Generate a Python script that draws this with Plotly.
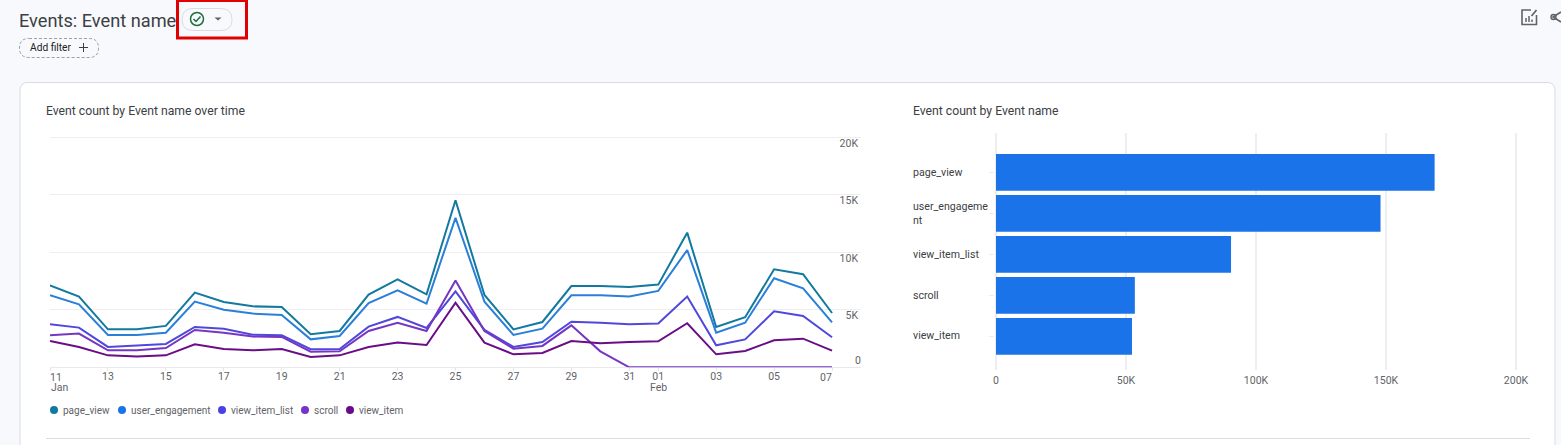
import pandas as pd
import plotly.graph_objects as go

W, H = 1561, 445

# Daily event counts, 11 Jan to 7 Feb
dates = pd.date_range("2024-01-11", "2024-02-07", freq="D")
page_view = [7130, 6150, 3300, 3300, 3600, 6500, 5680, 5300, 5250, 2870, 3160, 6320, 7650, 6350,
             14520, 6290, 3300, 3940, 7070, 7070, 6990, 7190, 11710, 3500, 4350, 8520, 8090, 4720]
user_engagement = [6260, 5480, 2810, 2810, 3010, 5710, 5010, 4670, 4550, 2430, 2720, 5590, 6700, 5540,
                   12990, 5710, 2810, 3360, 6260, 6260, 6150, 6640, 10200, 3010, 3880, 7740, 6870, 3910]
view_item_list = [3740, 3450, 1770, 1910, 2030, 3510, 3360, 2840, 2780, 1570, 1590, 3540, 4380, 3420,
                  6610, 3250, 1770, 2200, 3970, 3880, 3740, 3800, 6150, 1910, 2430, 4870, 4460, 2610]
scroll = [2780, 2930, 1480, 1480, 1680, 3250, 3010, 2670, 2640, 1360, 1390, 3160, 3860, 3160,
          7540, 3160, 1620, 1860, 3650, 1390, 0, 0, 0, 0, 0, 0, 0, 0]
view_item = [2290, 1770, 1040, 930, 1040, 2000, 1590, 1480, 1590, 900, 1040, 1770, 2150, 1940,
             5620, 2150, 1130, 1250, 2290, 2090, 2200, 2260, 3830, 1130, 1420, 2350, 2490, 1450]

series_names = ["page_view", "user_engagement", "view_item_list", "scroll", "view_item"]
series_values = [page_view, user_engagement, view_item_list, scroll, view_item]
series_colors = ["#12799f", "#2a80d8", "#5048dc", "#7536c4", "#6a0d86"]
legend_colors = ["#12799f", "#1a73e8", "#4a40e8", "#7434c8", "#6a0a8a"]

# Totals per event
bar_names = ["page_view", "user_engagement", "view_item_list", "scroll", "view_item"]
bar_labels = ["page_view", "user_engageme<br>nt", "view_item_list", "scroll", "view_item"]
bar_totals = [168700, 147900, 90400, 53400, 52300]

x_tick_dates = ["2024-01-13", "2024-01-15", "2024-01-17", "2024-01-19", "2024-01-21", "2024-01-23",
                "2024-01-25", "2024-01-27", "2024-01-29", "2024-01-31", "2024-02-01", "2024-02-03",
                "2024-02-05", "2024-01-11", "2024-02-07"]
x_tick_text = ["13", "15", "17", "19", "21", "23", "25", "27", "29", "31", "01", "03", "05", "", ""]

FONT = "Roboto, Arial, sans-serif"
GREY = "#5f6368"
DARK = "#3c4043"
GRID = "#eeeef0"


def px(x):
    return x / W


def py(y):
    return 1 - y / H


def rect_path(x0, y0, x1, y1, r):
    """Rounded rectangle as an SVG path in paper coordinates."""
    pts = [
        f"M{px(x0 + r)},{py(y0)}", f"L{px(x1 - r)},{py(y0)}",
        f"Q{px(x1)},{py(y0)} {px(x1)},{py(y0 + r)}", f"L{px(x1)},{py(y1 - r)}",
        f"Q{px(x1)},{py(y1)} {px(x1 - r)},{py(y1)}", f"L{px(x0 + r)},{py(y1)}",
        f"Q{px(x0)},{py(y1)} {px(x0)},{py(y1 - r)}", f"L{px(x0)},{py(y0 + r)}",
        f"Q{px(x0)},{py(y0)} {px(x0 + r)},{py(y0)}", "Z",
    ]
    return " ".join(pts)


def poly(points, close=False):
    body = " ".join(("M" if i == 0 else "L") + f"{px(x)},{py(y)}" for i, (x, y) in enumerate(points))
    return body + (" Z" if close else "")


def paper_shape(**kw):
    return dict(xref="paper", yref="paper", **kw)


def label(text, x, y, size=10.5, color=GREY, anchor="left", **kw):
    return dict(text=text, x=px(x), y=py(y), xref="paper", yref="paper", xanchor=anchor, yanchor="middle",
                showarrow=False, font=dict(family=FONT, size=size, color=color), align="left",
                borderpad=0, borderwidth=0, **kw)


fig = go.Figure()

for name, values, color in zip(series_names, series_values, series_colors):
    fig.add_trace(go.Scatter(x=dates, y=values, name=name, mode="lines", showlegend=False,
                             line=dict(color=color, width=2), xaxis="x", yaxis="y", cliponaxis=False))

fig.add_trace(go.Bar(x=bar_totals, y=bar_names, orientation="h", marker=dict(color="#1a73e8", line_width=0),
                     showlegend=False, xaxis="x2", yaxis="y2"))

shapes = [
    # Report card and the rule beneath its charts
    paper_shape(type="path", path=rect_path(20, 82.5, 1555, 470, 8), fillcolor="#ffffff",
                line=dict(color="#dadce0", width=1), layer="below"),
    paper_shape(type="line", x0=px(46), x1=px(1530), y0=py(438.5), y1=py(438.5),
                line=dict(color="#dadce0", width=1), layer="below"),
    # Status pill with check mark and dropdown arrow
    paper_shape(type="path", path=rect_path(182, 8.5, 232, 30.5, 11), line=dict(color="#dadce0", width=1),
                fillcolor="#f8f9fd"),
    paper_shape(type="circle", x0=px(190.5), x1=px(203.5), y0=py(12.5), y1=py(25.5),
                line=dict(color="#1e6e3c", width=1.5)),
    paper_shape(type="path", path=poly([(193.5, 19), (196, 21.5), (200.5, 16.5)]),
                line=dict(color="#1e6e3c", width=1.5)),
    paper_shape(type="path", path=poly([(214.5, 17.5), (221.5, 17.5), (218, 20.5)], close=True),
                fillcolor=GREY, line_width=0),
    # Highlight box around the pill
    paper_shape(type="rect", x0=px(177.5), x1=px(246.5), y0=py(0.5), y1=py(38),
                line=dict(color="#e00000", width=3)),
    # Add filter chip
    paper_shape(type="path", path=rect_path(19.5, 38.5, 98.5, 57.5, 9.5),
                line=dict(color="#9aa0a6", width=1, dash="3px,2px")),
    paper_shape(type="line", x0=px(79), x1=px(88), y0=py(47.5), y1=py(47.5), line=dict(color=DARK, width=1)),
    paper_shape(type="line", x0=px(83.5), x1=px(83.5), y0=py(43), y1=py(52), line=dict(color=DARK, width=1)),
    # Customise-report icon
    paper_shape(type="path", path=poly([(1531, 10), (1522, 10), (1522, 24.5), (1536.5, 24.5), (1536.5, 15)]),
                line=dict(color=GREY, width=1.6)),
    paper_shape(type="path", path=poly([(1531.5, 16), (1536.5, 10)]), line=dict(color=GREY, width=1.8)),
    paper_shape(type="path", path=poly([(1526, 18), (1526, 22)]), line=dict(color=GREY, width=1.5)),
    paper_shape(type="path", path=poly([(1529, 16), (1529, 22)]), line=dict(color=GREY, width=1.5)),
    paper_shape(type="path", path=poly([(1532, 19.5), (1532, 22)]), line=dict(color=GREY, width=1.5)),
    # Share icon, cut off by the page edge
    paper_shape(type="path", path=poly([(1561, 12), (1553, 17), (1561, 22)]), line=dict(color=GREY, width=1.6)),
    paper_shape(type="circle", x0=px(1551), x1=px(1556), y0=py(14.5), y1=py(19.5),
                line=dict(color=GREY, width=1.4)),
]

annotations = [
    label("Events: Event name", 19, 20, size=18.2, color="#3c4043"),
    label("Add filter", 30, 47.5, size=10.2, color="#202124"),
    label("Event count by Event name over time", 46, 111, size=12.2, color=DARK),
    label("Event count by Event name", 912.5, 111, size=12.2, color=DARK),
    # Axis end labels sit inside the plot edges, and month names sit on a second row
    label("11", 50, 377, size=10.5),
    label("Jan", 50.5, 387, size=10.5),
    label("07", 832, 377, size=10.5, anchor="right"),
    label("Feb", 658, 387, size=10.5, anchor="center"),
    label("0", 860.5, 360.5, size=10.5, anchor="right"),
]

# Circle-and-text legend along the bottom of the line chart
legend_dots = [54, 122, 222, 305, 350]
legend_text_x = [63, 131, 231, 314, 359]
for name, color, dot, tx in zip(series_names, legend_colors, legend_dots, legend_text_x):
    shapes.append(paper_shape(type="circle", x0=px(dot - 4), x1=px(dot + 4), y0=py(406), y1=py(414),
                              fillcolor=color, line_width=0))
    annotations.append(label(name, tx, 410, size=10))

# Left-aligned category labels of the bar chart
for lab, y in zip(bar_labels, [172, 213.5, 254, 295, 335.5]):
    annotations.append(label(lab, 912.5, y, size=10.6, color=DARK))

fig.update_layout(
    width=W, height=H, autosize=False, margin=dict(l=0, r=0, t=0, b=0, pad=0, autoexpand=False),
    paper_bgcolor="#f8f9fd", plot_bgcolor="rgba(0,0,0,0)",
    font=dict(family=FONT, size=10.5, color=GREY),
    bargap=0.1,
    shapes=shapes, annotations=annotations,
    # The time axis runs one day past the data, leaving room for the value labels
    xaxis=dict(domain=[px(50), px(861)], anchor="y", type="date", layer="below traces",
               range=["2024-01-11", "2024-02-08"], tickvals=x_tick_dates, ticktext=x_tick_text,
               showgrid=False, showline=True, linecolor="#e8e9ec", linewidth=1, zeroline=False,
               ticks="outside", ticklen=3, tickcolor="#e4e5e8", tickfont=dict(size=10.5, color=GREY),
               ticklabelstandoff=-4),
    # The ranges run just past the outer ticks so their gridlines are kept
    yaxis=dict(domain=[py(367.3), py(136.15)], anchor="x", side="right", range=[0, 20100],
               tickvals=[5000, 10000, 15000, 20000], ticktext=["5K", "10K", "15K", "20K"],
               showgrid=True, gridcolor=GRID, gridwidth=1, zeroline=False, showline=False,
               ticklabelposition="inside", ticklabelshift=6, tickfont=dict(size=10.5, color=GREY)),
    xaxis2=dict(domain=[px(994.7), px(1517.3)], anchor="y2", range=[-500, 200500],
                tickvals=[0, 50000, 100000, 150000, 200000], ticktext=["0", "50K", "100K", "150K", "200K"],
                showgrid=True, gridcolor=GRID, gridwidth=1.5, zeroline=False, showline=False,
                tickfont=dict(size=10.5, color=GREY), ticklabelstandoff=2),
    yaxis2=dict(domain=[py(370), py(133)], anchor="x2", type="category", categoryorder="array",
                categoryarray=bar_names, range=[4.82, -0.96], showticklabels=False, showgrid=False,
                zeroline=False, showline=False, ticks="outside", ticklen=5, tickcolor=GRID),
)

fig.write_html("out.html", config=dict(displayModeBar=False))
